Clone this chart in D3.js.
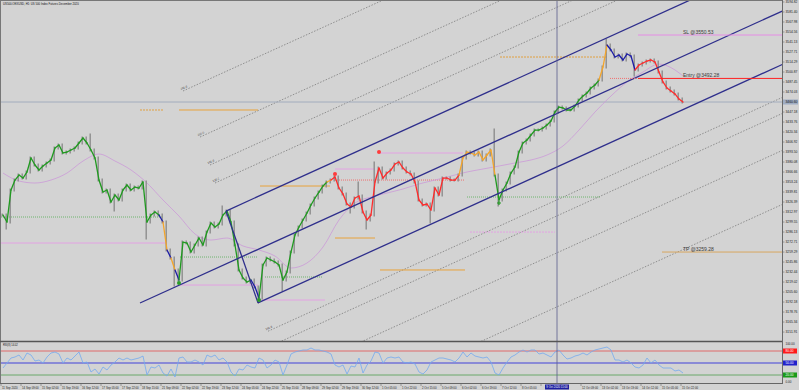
<!DOCTYPE html>
<html>
<head>
<meta charset="utf-8">
<script src="https://cdn.jsdelivr.net/npm/d3@7"></script>
<style>
body { margin: 0; background: #d3d3d3; }
svg { display: block; font-family: "Liberation Sans", Arial, sans-serif; }
</style>
</head>
<body>
<div id="chart"></div>
<script>
var title = "US500.OEXUSD, H1: US 500 Index Futures December 2020";

// closes, one point per 2 bars
var closes = [3309.0, 3299.6, 3342.5, 3355.9, 3362.6, 3358.6, 3366.7, 3385.5, 3376.1, 3369.4,
  3374.7, 3378.8, 3382.8, 3398.9, 3402.9, 3392.2, 3393.5, 3396.2, 3398.9, 3405.6,
  3412.3, 3405.6, 3396.2, 3385.5, 3355.9, 3339.8, 3342.5, 3326.4, 3335.8, 3329.1,
  3342.5, 3349.2, 3342.5, 3346.5, 3345.2, 3353.3, 3299.6, 3309.0, 3313.0, 3309.0,
  3299.6, 3262.0, 3251.3, 3235.2, 3221.7, 3272.7, 3271.4, 3259.3, 3268.7, 3278.1,
  3268.7, 3286.2, 3298.2, 3292.9, 3296.9, 3309.0, 3314.3, 3299.6, 3268.7, 3235.2,
  3224.4, 3219.1, 3221.7, 3212.3, 3197.6, 3241.9, 3251.3, 3248.6, 3245.9, 3241.9,
  3221.7, 3232.5, 3259.3, 3282.1, 3292.9, 3302.3, 3311.7, 3322.4, 3331.8, 3339.8,
  3347.9, 3353.3, 3355.9, 3360.0, 3345.2, 3337.2, 3323.7, 3319.7, 3331.8, 3334.5,
  3313.0, 3302.3, 3309.0, 3353.3, 3372.0, 3358.6, 3365.3, 3369.4, 3377.4, 3380.1,
  3372.0, 3366.7, 3364.0, 3353.3, 3329.1, 3322.4, 3323.7, 3315.7, 3345.2, 3335.8,
  3358.6, 3358.6, 3355.9, 3355.9, 3362.6, 3385.5, 3393.5, 3392.2, 3389.5, 3393.5,
  3382.8, 3389.5, 3396.2, 3362.6, 3329.1, 3342.5, 3351.9, 3365.3, 3373.4, 3393.5,
  3405.6, 3409.6, 3416.3, 3423.0, 3423.0, 3425.7, 3429.7, 3435.1, 3447.2, 3453.9,
  3452.6, 3449.9, 3449.9, 3455.2, 3463.3, 3468.7, 3472.7, 3479.4, 3483.4, 3490.1,
  3507.6, 3537.1, 3530.4, 3521.0, 3523.7, 3517.0, 3525.0, 3522.3, 3503.6, 3510.3,
  3513.0, 3515.6, 3517.0, 3514.3, 3500.9, 3487.5, 3479.4, 3475.4, 3471.4, 3464.6,
  3460.6];

// trend state runs: g up, r down, b / o neutral
var trendRuns = [['g', 40], ['b', 1], ['o', 1], ['b', 1], ['o', 1], ['b', 1], ['g', 18], ['b', 2],
  ['g', 17], ['o', 1], ['r', 32], ['o', 9], ['g', 26], ['o', 2], ['b', 7], ['r', 12]];

// [index, high, low] where the bar reaches past the closes
var wicks = [[1, null, 3291.5], [22, 3416.3, null], [28, null, 3315.7], [36, null, 3278.1],
  [43, null, 3215.0], [55, 3319.7, null], [64, null, 3192.2], [70, null, 3208.3],
  [87, null, 3313.0], [89, 3351.9, null], [91, null, 3291.5], [93, 3378.8, null],
  [107, null, 3299.6], [123, 3423.0, null], [124, null, 3322.4], [151, 3543.8, null],
  [158, null, 3496.9]];

var maPoints = [[0, 3365.3], [4, 3354.6], [8, 3351.9], [12, 3355.9], [16, 3365.3], [20, 3381.4],
  [24, 3390.8], [28, 3381.4], [32, 3369.4], [36, 3351.9], [40, 3329.1], [44, 3307.6],
  [48, 3283.5], [52, 3275.4], [56, 3278.1], [60, 3267.4], [64, 3262.0], [68, 3253.9],
  [72, 3237.8], [76, 3244.6], [80, 3266.0], [84, 3302.3], [88, 3325.1], [92, 3333.1],
  [96, 3338.5], [100, 3343.9], [104, 3350.6], [108, 3355.9], [112, 3361.3], [116, 3366.7],
  [120, 3370.7], [124, 3374.7], [128, 3378.8], [132, 3382.8], [136, 3389.5], [140, 3401.6],
  [144, 3423.0], [148, 3447.2], [152, 3468.7], [156, 3487.5], [160, 3500.9], [164, 3511.6],
  [168, 3503.6], [170, 3495.5]];

var rsi = [37.5, 50, 62.5, 65, 70, 57.5, 75, 70, 55, 57.5,
  50, 65, 75, 77.5, 72.5, 50, 62.5, 57.5, 67.5, 77.5,
  50, 52.5, 27.5, 35, 22.5, 40, 32.5, 45, 52.5, 62.5,
  57.5, 62.5, 57.5, 60, 62.5, 67.5, 20, 40, 37.5, 45,
  25, 17.5, 35, 15, 62.5, 65, 52.5, 52.5, 57.5, 52.5,
  45, 70, 65, 70, 57.5, 62.5, 52.5, 27.5, 17.5, 35,
  32.5, 45, 40, 37.5, 62.5, 57.5, 37.5, 45, 57.5, 52.5,
  20, 45, 72.5, 77.5, 80, 82.5, 82.5, 87.5, 82.5, 82.5,
  80, 77.5, 72.5, 45, 40, 45, 22.5, 42.5, 40, 62.5,
  25, 45, 55, 77.5, 75, 50, 62.5, 65, 62.5, 65,
  52.5, 50, 52.5, 47.5, 27.5, 22.5, 32.5, 52.5, 57.5, 62.5,
  62.5, 60, 57.5, 52.5, 62.5, 77.5, 65, 75, 67.5, 65,
  62.5, 65, 52.5, 25, 20, 37.5, 52.5, 65, 70, 77.5,
  82.5, 77.5, 82.5, 82.5, 72.5, 75, 70, 65, 77.5, 82.5,
  70, 60, 62.5, 67.5, 70, 75, 70, 77.5, 82.5, 85,
  87.5, 90, 82.5, 57.5, 57.5, 52.5, 57.5, 50, 40, 37.5,
  45, 62.5, 50, 57.5, 45, 37.5, 37.5, 37.5, 30, 32.5,
  25];
var rsiLevels = [[80, '#e06a6a', 1], [50, '#8a8ad6', 2], [20, '#6aa86a', 1]];

var priceTicks = [3594.82, 3581.40, 3567.98, 3554.56, 3541.13, 3527.71, 3514.29, 3500.87,
  3487.45, 3474.03, 3460.61, 3447.18, 3433.76, 3420.34, 3406.92, 3393.50, 3380.08,
  3366.66, 3353.24, 3339.81, 3326.39, 3312.97, 3299.55, 3286.13, 3272.71, 3259.29,
  3245.86, 3232.44, 3219.02, 3205.60, 3192.18, 3178.76, 3165.34, 3151.91];
var bidPrice = 3460.60;

var timeLabels = ['11 Sep 2020', '14 Sep 09:00', '15 Sep 02:00', '15 Sep 19:00', '16 Sep 12:00',
  '17 Sep 05:00', '17 Sep 22:00', '18 Sep 15:00', '21 Sep 09:00', '22 Sep 02:00',
  '22 Sep 19:00', '23 Sep 12:00', '24 Sep 05:00', '24 Sep 22:00', '25 Sep 15:00',
  '28 Sep 09:00', '29 Sep 02:00', '29 Sep 19:00', '30 Sep 12:00', '1 Oct 05:00',
  '1 Oct 22:00', '2 Oct 15:00', '5 Oct 09:00', '6 Oct 02:00', '6 Oct 19:00',
  '7 Oct 12:00', '8 Oct 05:00', '8 Oct 22:00', '9 Oct 15:00', '12 Oct 09:00',
  '13 Oct 02:00', '13 Oct 19:00', '14 Oct 12:00', '15 Oct 05:00', '15 Oct 22:00'];
var crosshairIndex = 138.5;
var crosshairLabel = '9 Oct 2020 11:00';

// channel: [k1, p1, k2, p2]
var channelLines = [[55.75, 3314.3, 195, 3654.1], [34.25, 3190.9, 195, 3583.1],
  [63.75, 3191.1, 195, 3511.4], [55.75, 3314.3, 63.75, 3191.1]];
var fibLines = [[53, 3351.9, 195, 3698.4, '138.2'], [51.75, 3376.1, 195, 3725.6, '161.8'],
  [49.25, 3413.6, 195, 3769.2, '200.0'], [45, 3475.4, 195, 3841.4, '261.8'],
  [66.25, 3153.0, 195, 3467.2, '161.8'], [66.25, 3131.5, 195, 3445.7, ''],
  [66.25, 3081.9, 195, 3396.1, ''], [66.25, 3009.4, 195, 3323.6, '']];

// horizontal levels: [from, to, price, kind]
var levels = [[34.25, 40, 3449.9, 'orangeDot'], [44, 63.75, 3449.9, 'orange'],
  [64.25, 81.75, 3347.9, 'orange'], [83, 93, 3278.1, 'orange'], [94.25, 115.5, 3235.2, 'orange'],
  [124.25, 151, 3521.0, 'orangeDot'],
  [-0.5, 40.5, 3271.4, 'pink'], [44, 63.75, 3215.0, 'pink'], [64, 80.5, 3194.9, 'pink'],
  [83, 93, 3370.7, 'pink'], [94.25, 115, 3392.2, 'pink'], [116.75, 138, 3286.1, 'pinkDot'],
  [-0.5, 40, 3306.3, 'greenDot'], [44.25, 63.5, 3252.6, 'greenDot'], [65.5, 80, 3225.8, 'greenDot'],
  [116, 149.25, 3333.1, 'greenDot'], [83, 115.5, 3355.9, 'redDot']];

var orders = [['SL @3550.53', 3550.53, 158.75, 'sl'], ['Entry @3492.28', 3492.28, 158.75, 'entry'],
  ['TP @3259.28', 3259.28, 164.75, 'tp']];
var entryPending = [151.75, 158.75, 3492.28];
var orderLabelIndex = 170;

var signals = [[83, 3363.9, 'sell'], [94, 3393.5, 'sell'], [44, 3217.7, 'buy'],
  [64, 3194.9, 'buy'], [124, 3325.1, 'cross']];

var W = 799, H = 390;
var axisX = 782, mainBottom = 341, rsiTop = 342, rsiBottom = 383;

var levelStyle = {
  orange: ['#e8a23a', null], orangeDot: ['#e0a040', '2,1'], pink: ['#e3a2e3', null],
  pinkDot: ['#e3a2e3', '2,1'], greenDot: ['#6fb46f', '1,1'], redDot: ['#f07070', '1,1'],
  sl: ['#e58ce5', null], entry: ['#ff2020', null], tp: ['#d8a860', null]
};
var trendColor = { g: '#1f9a1f', r: '#ff2b2b', b: '#1c1ca6', o: '#f4a52a' };

var x = d3.scaleLinear().domain([-0.5, 195]).range([1, 783]);
var y = d3.scaleLinear().domain([3597.5, 3139.9]).range([0, 341]);
var yR = d3.scaleLinear().domain([0, 100]).range([rsiBottom, rsiTop + 1]);

var states = [];
trendRuns.forEach(function(r) { for (var i = 0; i < r[1]; i++) states.push(r[0]); });

var svg = d3.select('#chart').append('svg').attr('width', W).attr('height', H);
svg.append('rect').attr('width', W).attr('height', H).attr('fill', '#d3d3d3');

var defs = svg.append('defs');
defs.append('clipPath').attr('id', 'clip-main').append('rect')
  .attr('x', 1).attr('y', 1).attr('width', axisX - 1).attr('height', mainBottom - 1);
defs.append('clipPath').attr('id', 'clip-rsi').append('rect')
  .attr('x', 1).attr('y', rsiTop).attr('width', axisX - 1).attr('height', rsiBottom - rsiTop);

var main = svg.append('g').attr('clip-path', 'url(#clip-main)');

// fibo extension lines
fibLines.forEach(function(f) {
  main.append('line')
    .attr('x1', x(f[0])).attr('y1', y(f[1])).attr('x2', x(f[2])).attr('y2', y(f[3]))
    .attr('stroke', '#7c7c7c').attr('stroke-width', 0.8).attr('stroke-dasharray', '1.5,1.5');
  if (f[4]) {
    var ang = Math.atan2(y(f[3]) - y(f[1]), x(f[2]) - x(f[0])) * 180 / Math.PI;
    main.append('text')
      .attr('transform', 'translate(' + (x(f[0]) - 2) + ',' + (y(f[1]) - 1) + ') rotate(' + ang + ')')
      .attr('font-size', 2.8).attr('fill', '#333').text(f[4]);
  }
});

// bid line
main.append('line').attr('x1', 1).attr('x2', axisX)
  .attr('y1', y(bidPrice)).attr('y2', y(bidPrice))
  .attr('stroke', '#a3adbd').attr('stroke-width', 1);

levels.forEach(function(l) {
  var s = levelStyle[l[3]];
  main.append('line')
    .attr('x1', x(l[0])).attr('x2', x(l[1])).attr('y1', y(l[2])).attr('y2', y(l[2]))
    .attr('stroke', s[0]).attr('stroke-width', 1)
    .attr('stroke-dasharray', s[1]);
});

// moving average
main.append('path').datum(maPoints)
  .attr('fill', 'none').attr('stroke', '#cc9ad8').attr('stroke-width', 0.8)
  .attr('d', d3.line().x(function(d) { return x(d[0]); }).y(function(d) { return y(d[1]); }).curve(d3.curveMonotoneX));

// gray bars
var wickMap = {};
wicks.forEach(function(w) { wickMap[w[0]] = w; });
closes.forEach(function(c, i) {
  var prev = i > 0 ? closes[i - 1] : c;
  var hi = Math.max(prev, c), lo = Math.min(prev, c);
  if (wickMap[i]) {
    if (wickMap[i][1] !== null) hi = Math.max(hi, wickMap[i][1]);
    if (wickMap[i][2] !== null) lo = Math.min(lo, wickMap[i][2]);
  }
  main.append('line')
    .attr('x1', x(i) - 0.8).attr('x2', x(i) - 0.8).attr('y1', y(hi) - 1.5).attr('y2', y(lo) + 1.5)
    .attr('stroke', '#8d8d8d').attr('stroke-width', 1.4);
});

// coloured close line
for (var i = 1; i < closes.length; i++) {
  main.append('line')
    .attr('x1', x(i - 1)).attr('y1', y(closes[i - 1]))
    .attr('x2', x(i)).attr('y2', y(closes[i]))
    .attr('stroke', trendColor[states[i]]).attr('stroke-width', 1.3)
    .attr('stroke-linecap', 'round');
}

// channel
channelLines.forEach(function(c) {
  main.append('line')
    .attr('x1', x(c[0])).attr('y1', y(c[1])).attr('x2', x(c[2])).attr('y2', y(c[3]))
    .attr('stroke', '#2f2f8c').attr('stroke-width', 1.3);
});

// signals
signals.forEach(function(s) {
  if (s[2] === 'cross') {
    main.append('path')
      .attr('d', 'M' + (x(s[0]) - 2) + ',' + y(s[1]) + 'h4M' + x(s[0]) + ',' + (y(s[1]) - 2) + 'v4')
      .attr('stroke', '#1f9a1f').attr('stroke-width', 1.2);
  } else {
    main.append('circle').attr('cx', x(s[0])).attr('cy', y(s[1])).attr('r', 2)
      .attr('fill', s[2] === 'sell' ? '#ff3b3b' : '#2a9d2a');
  }
});

// order lines
main.append('line')
  .attr('x1', x(entryPending[0])).attr('x2', x(entryPending[1]))
  .attr('y1', y(entryPending[2])).attr('y2', y(entryPending[2]))
  .attr('stroke', '#f07070').attr('stroke-width', 1).attr('stroke-dasharray', '1,1');
orders.forEach(function(o) {
  var s = levelStyle[o[3]];
  main.append('line')
    .attr('x1', x(o[2])).attr('x2', axisX).attr('y1', y(o[1])).attr('y2', y(o[1]))
    .attr('stroke', s[0]).attr('stroke-width', 1);
  main.append('text')
    .attr('x', x(orderLabelIndex)).attr('y', y(o[1]) - 1.5)
    .attr('font-size', 5).attr('fill', '#3a3a3a').text(o[0]);
});

// title
svg.append('text').attr('x', 3).attr('y', 5).attr('font-size', 2.8).attr('fill', '#111').text(title);

// RSI panel
var rsiG = svg.append('g').attr('clip-path', 'url(#clip-rsi)');
rsiLevels.forEach(function(l) {
  rsiG.append('line').attr('x1', 1).attr('x2', axisX).attr('y1', yR(l[0])).attr('y2', yR(l[0]))
    .attr('stroke', l[1]).attr('stroke-width', l[2]);
});
rsiG.append('path').datum(rsi)
  .attr('fill', 'none').attr('stroke', '#74aaf0').attr('stroke-width', 0.8)
  .attr('d', d3.line().x(function(d, i) { return x(i); }).y(function(d) { return yR(d); }));
svg.append('text').attr('x', 3).attr('y', rsiTop + 4).attr('font-size', 2.6).attr('fill', '#111').text('RSI(8) 14.02');

// crosshair
svg.append('line').attr('x1', x(crosshairIndex)).attr('x2', x(crosshairIndex))
  .attr('y1', 1).attr('y2', rsiBottom).attr('stroke', '#5a5e8e').attr('stroke-width', 0.8);

// frames
svg.append('line').attr('x1', 0).attr('x2', axisX).attr('y1', 0.5).attr('y2', 0.5).attr('stroke', '#777');
svg.append('line').attr('x1', 0.5).attr('x2', 0.5).attr('y1', 0).attr('y2', rsiBottom).attr('stroke', '#777');
svg.append('line').attr('x1', 0).attr('x2', axisX).attr('y1', mainBottom + 0.5).attr('y2', mainBottom + 0.5)
  .attr('stroke', '#555').attr('stroke-width', 1.5);
svg.append('line').attr('x1', 0).attr('x2', axisX).attr('y1', rsiBottom + 0.5).attr('y2', rsiBottom + 0.5)
  .attr('stroke', '#666').attr('stroke-width', 1);
svg.append('line').attr('x1', axisX + 0.5).attr('x2', axisX + 0.5).attr('y1', 0).attr('y2', rsiBottom + 1)
  .attr('stroke', '#6a6a6a').attr('stroke-width', 1);

// price axis
var yAxis = svg.append('g');
priceTicks.forEach(function(p) {
  yAxis.append('line').attr('x1', axisX).attr('x2', axisX + 2.5).attr('y1', y(p)).attr('y2', y(p))
    .attr('stroke', '#6a6a6a').attr('stroke-width', 0.6);
  if (Math.abs(y(p) - y(bidPrice)) < 4) return;
  yAxis.append('text').attr('x', axisX + 3.5).attr('y', y(p) + 1)
    .attr('font-size', 3.3).attr('fill', '#222').text(p.toFixed(2));
});
yAxis.append('rect').attr('x', axisX + 1).attr('y', y(bidPrice) - 2.5).attr('width', 15).attr('height', 5)
  .attr('fill', '#9fadc4');
yAxis.append('text').attr('x', axisX + 3.5).attr('y', y(bidPrice) + 1)
  .attr('font-size', 3.3).attr('fill', '#111').text(bidPrice.toFixed(2));

// rsi axis
svg.append('text').attr('x', axisX + 3.5).attr('y', yR(100) + 1.5).attr('font-size', 3).attr('fill', '#222').text('100.00');
svg.append('text').attr('x', axisX + 3.5).attr('y', yR(0) - 0.5).attr('font-size', 3).attr('fill', '#222').text('0.00');
rsiLevels.forEach(function(l) {
  var fill = l[0] === 80 ? '#ff1a1a' : (l[0] === 50 ? '#2222cc' : '#1a9a1a');
  svg.append('rect').attr('x', axisX + 1).attr('y', yR(l[0]) - 2.5).attr('width', 14).attr('height', 5).attr('fill', fill);
  svg.append('text').attr('x', axisX + 3.5).attr('y', yR(l[0]) + 1)
    .attr('font-size', 3.2).attr('fill', '#fff').text(l[0].toFixed(2));
});

// time axis (labels hidden under the crosshair box are skipped, as on the terminal)
var boxX0 = x(crosshairIndex) - 12, boxX1 = x(crosshairIndex) + 12;
timeLabels.forEach(function(t, j) {
  var tx = x(5 * j - 0.5);
  svg.append('line').attr('x1', tx).attr('x2', tx).attr('y1', rsiBottom).attr('y2', rsiBottom + 3)
    .attr('stroke', '#6a6a6a').attr('stroke-width', 0.6);
  if (tx + 18 > boxX0 && tx < boxX1) return;
  svg.append('text').attr('x', tx + 1).attr('y', rsiBottom + 5.5)
    .attr('font-size', 2.8).attr('fill', '#222').text(t);
});
svg.append('rect').attr('x', boxX0).attr('y', rsiBottom + 1.5).attr('width', 24).attr('height', 5)
  .attr('fill', '#1e1ea0');
svg.append('text').attr('x', x(crosshairIndex)).attr('y', rsiBottom + 5.2).attr('text-anchor', 'middle')
  .attr('font-size', 2.8).attr('fill', '#fff').text(crosshairLabel);
</script>
</body>
</html>
